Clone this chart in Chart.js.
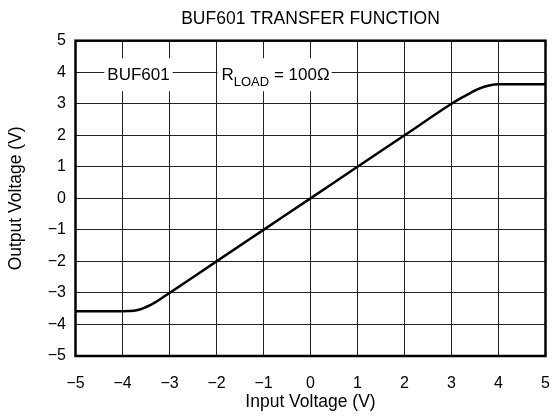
<!DOCTYPE html>
<html>
<head>
<meta charset="utf-8">
<script src="https://cdn.jsdelivr.net/npm/chart.js@4.4.1/dist/chart.umd.min.js"></script>
<style>
html,body{margin:0;padding:0;background:#fff;}
#wrap{width:553px;height:420px;}
</style>
</head>
<body>
<div id="wrap"><canvas id="c" width="553" height="420"></canvas></div>
<script>
// Data
const inputVoltage = [-5, -4.5, -4.0, -3.85, -3.7, -3.55, -3.4, -3.2, -3.0, -2, -1, 0, 1, 2, 3.0, 3.2, 3.4, 3.6, 3.8, 4.0, 4.5, 5];
const outputVoltage = [-3.58, -3.58, -3.58, -3.575, -3.55, -3.48, -3.38, -3.2, -3.0, -2, -1, 0, 1, 2, 3.0, 3.18, 3.34, 3.49, 3.58, 3.62, 3.62, 3.62];
const xTickValues = [-5, -4, -3, -2, -1, 0, 1, 2, 3, 4, 5];
const yTickValues = [-5, -4, -3, -2, -1, 0, 1, 2, 3, 4, 5];
const chartTitle = 'BUF601 TRANSFER FUNCTION';
const xTitle = 'Input Voltage (V)';
const yTitle = 'Output Voltage (V)';
const deviceLabel = 'BUF601';
const loadLabel = {main: 'R', sub: 'LOAD', rest: ' = 100\u03A9'};

const FONT = '"Liberation Sans", Arial, sans-serif';
const fmt = v => (v < 0 ? '\u2212' + Math.abs(v) : String(v));

const annotPlugin = {
  id: 'annot',
  beforeDatasetsDraw(chart) {
    const {ctx, scales: {x, y}} = chart;
    ctx.save();
    const yc = y.getPixelForValue(4);
    ctx.textBaseline = 'alphabetic';
    // BUF601 label
    ctx.font = '17px ' + FONT;
    const bx = x.getPixelForValue(-3.66);
    const bw = ctx.measureText(deviceLabel).width;
    ctx.fillStyle = '#fff';
    ctx.fillRect(bx - bw / 2 - 3, yc - 14, bw + 6, 33);
    ctx.fillStyle = '#000';
    ctx.textAlign = 'center';
    ctx.fillText(deviceLabel, bx, yc + 7.5);
    // R_LOAD label
    const rx = x.getPixelForValue(-2) + 5;
    ctx.textAlign = 'left';
    ctx.font = '17px ' + FONT;
    const w1 = ctx.measureText(loadLabel.main).width;
    ctx.font = '13px ' + FONT;
    const w2 = ctx.measureText(loadLabel.sub).width;
    ctx.font = '17px ' + FONT;
    const w3 = ctx.measureText(loadLabel.rest).width;
    ctx.fillStyle = '#fff';
    ctx.fillRect(rx - 4, yc - 14, w1 + w2 + w3 + 6, 33);
    ctx.fillStyle = '#000';
    ctx.font = '17px ' + FONT;
    ctx.fillText(loadLabel.main, rx, yc + 7.5);
    ctx.font = '13px ' + FONT;
    ctx.fillText(loadLabel.sub, rx + w1, yc + 13.3);
    ctx.font = '17px ' + FONT;
    ctx.fillText(loadLabel.rest, rx + w1 + w2, yc + 7.5);
    ctx.restore();
  },
  afterDatasetsDraw(chart) {
    const {ctx, chartArea: a} = chart;
    ctx.save();
    ctx.strokeStyle = '#000';
    ctx.lineWidth = 2.5;
    ctx.strokeRect(a.left, a.top, a.right - a.left, a.bottom - a.top);
    ctx.restore();
  }
};

new Chart(document.getElementById('c'), {
  type: 'line',
  data: {
    datasets: [{
      data: inputVoltage.map((v, i) => ({x: v, y: outputVoltage[i]})),
      borderColor: '#000',
      borderWidth: 2.5,
      pointRadius: 0,
      cubicInterpolationMode: 'monotone',
      fill: false
    }]
  },
  plugins: [annotPlugin],
  options: {
    responsive: false,
    animation: false,
    devicePixelRatio: 1,
    layout: {padding: {left: 0, right: 7.5, top: 0, bottom: 0}},
    plugins: {
      legend: {display: false},
      tooltip: {enabled: false},
      title: {
        display: true,
        fullSize: false,
        text: chartTitle,
        color: '#000',
        font: {family: FONT, size: 17.5, weight: 'normal'},
        padding: {top: 8.2, bottom: 11.5},
        align: 'center'
      }
    },
    scales: {
      x: {
        type: 'linear',
        min: -5, max: 5,
        afterBuildTicks: s => { s.ticks = xTickValues.map(v => ({value: v})); },
        afterFit: s => { s.height = 64; s.paddingLeft = 0; s.paddingRight = 0; },
        grid: {color: '#222', lineWidth: 1, drawTicks: false},
        border: {display: false},
        ticks: {color: '#000', font: {family: FONT, size: 16}, padding: 18, callback: v => fmt(v), maxRotation: 0},
        title: {display: true, text: xTitle, color: '#000', font: {family: FONT, size: 17.5}, padding: {top: 1.5, bottom: 7.5}}
      },
      y: {
        type: 'linear',
        min: -5, max: 5,
        afterBuildTicks: s => { s.ticks = yTickValues.map(v => ({value: v})); },
        afterFit: s => { s.width = 75.5; },
        grid: {color: '#222', lineWidth: 1, drawTicks: false},
        border: {display: false},
        ticks: {color: '#000', font: {family: FONT, size: 16}, padding: 9.5, callback: v => fmt(v)},
        title: {display: true, text: yTitle, color: '#000', font: {family: FONT, size: 17.5}, padding: {top: 5.5, bottom: 20}}
      }
    }
  }
});
</script>
</body>
</html>
